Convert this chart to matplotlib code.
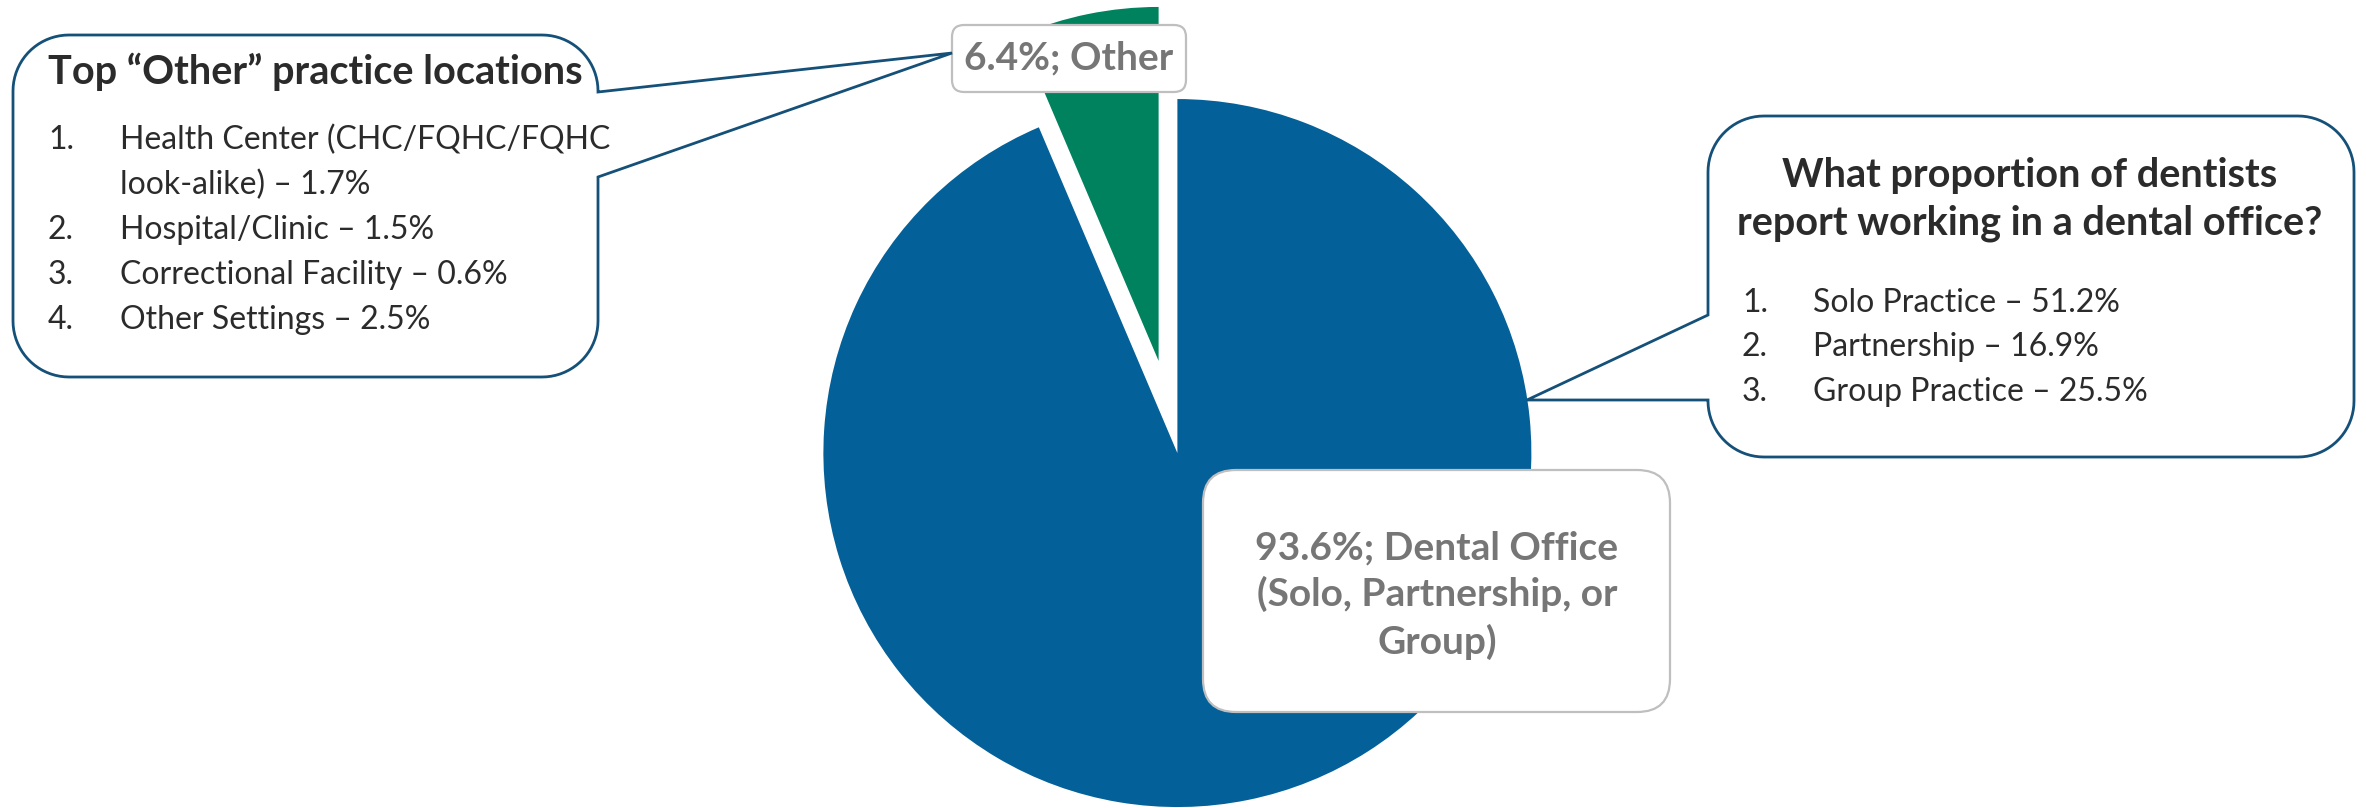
import matplotlib
matplotlib.use('Agg')
import matplotlib.pyplot as plt
from matplotlib.patches import Polygon, FancyBboxPatch
import numpy as np

plt.rcParams['font.family'] = ['Lato', 'DejaVu Sans']

# data
shares = [93.6, 6.4]
share_names = ["Dental Office", "Other"]
share_colors = ['#036098', '#00825F']
office_items = ["Solo Practice", "Partnership", "Group Practice"]
office_pcts = [51.2, 16.9, 25.5]
other_items = ["Health Center (CHC/FQHC/FQHC\nlook-alike)", "Hospital/Clinic",
               "Correctional Facility", "Other Settings"]
other_pcts = [1.7, 1.5, 0.6, 2.5]

W, H = 2366, 808
DARK = '#2B2B2B'
GREY = '#767676'
LINE = '#155078'


def Y(y):
    # image rows -> data y
    return H - y


def callout(ax, x0, y0, x1, y1, r, side, b0, b1, tip):
    pts = []

    def arc(cx, cy, a0, a1):
        for a in np.linspace(np.radians(a0), np.radians(a1), 20):
            pts.append((cx + r * np.cos(a), cy + r * np.sin(a)))

    arc(x0 + r, y0 + r, 180, 270)
    arc(x1 - r, y0 + r, 270, 360)
    if side == 'right':
        pts += [(x1, b0), tip, (x1, b1)]
    arc(x1 - r, y1 - r, 0, 90)
    arc(x0 + r, y1 - r, 90, 180)
    if side == 'left':
        pts += [(x0, b1), tip, (x0, b0)]
    pts = [(x, Y(y)) for x, y in pts]
    ax.add_patch(Polygon(pts, closed=True, facecolor='white', edgecolor=LINE,
                         linewidth=2.0, joinstyle='miter', zorder=3))


def label_box(ax, x0, y0, x1, y1, r):
    ax.add_patch(FancyBboxPatch((x0, Y(y1)), x1 - x0, y1 - y0,
                                boxstyle='round,pad=0,rounding_size=%d' % r,
                                facecolor='white', edgecolor='#BFBFBF',
                                linewidth=1.6, zorder=3))


fig = plt.figure(figsize=(W / 100, H / 100), dpi=100)
ax = fig.add_axes([0, 0, 1, 1])

# explode is in data units here (pixels)
ax.pie(shares, colors=share_colors, startangle=90, counterclock=False,
       center=(1168, Y(407)), radius=354, explode=[47, 47],
       wedgeprops=dict(linewidth=0))
ax.set_xlim(0, W)
ax.set_ylim(0, H)
ax.set_aspect('equal')
ax.axis('off')

# data labels
label_box(ax, 952, 25, 1186, 92, 12)
ax.text(1069, Y(58), "%.1f%%; %s" % (shares[1], share_names[1]), color=GREY,
        fontsize=28, fontweight='bold', ha='center', va='center', zorder=4)

label_box(ax, 1203, 470, 1670, 712, 33)
ax.text(1437, Y(595), "%.1f%%; %s\n(Solo, Partnership, or\nGroup)" % (shares[0], share_names[0]),
        color=GREY, fontsize=28, fontweight='bold', ha='center', va='center',
        linespacing=1.36, zorder=4)

# left callout: other locations
callout(ax, 13, 35, 598, 377, 56, 'right', 92, 177, (952, 53))
ax.text(48, Y(72), "Top \u201cOther\u201d practice locations", color=DARK,
        fontsize=28.5, fontweight='bold', ha='left', va='center', zorder=4)
row = 0
for i, (item, pct) in enumerate(zip(other_items, other_pcts)):
    lines = (item + " \u2013 %.1f%%" % pct).split('\n')
    ax.text(48, Y(140 + 45 * row), "%d." % (i + 1), color=DARK, fontsize=23,
            ha='left', va='center', zorder=4)
    for ln in lines:
        ax.text(120, Y(140 + 45 * row), ln, color=DARK, fontsize=23,
                ha='left', va='center', zorder=4)
        row += 1

# right callout: dental office breakdown
callout(ax, 1708, 116, 2354, 457, 56, 'left', 315, 400, (1527, 400))
ax.text(2030, Y(175), "What proportion of dentists", color=DARK, fontsize=28.5,
        fontweight='bold', ha='center', va='center', zorder=4)
ax.text(2030, Y(223), "report working in a dental office?", color=DARK, fontsize=28.5,
        fontweight='bold', ha='center', va='center', zorder=4)
for i, (item, pct) in enumerate(zip(office_items, office_pcts)):
    ax.text(1742, Y(303 + 44.5 * i), "%d." % (i + 1), color=DARK, fontsize=23,
            ha='left', va='center', zorder=4)
    ax.text(1813, Y(303 + 44.5 * i), "%s \u2013 %.1f%%" % (item, pct), color=DARK,
            fontsize=23, ha='left', va='center', zorder=4)

fig.savefig('out.png', dpi=100)
